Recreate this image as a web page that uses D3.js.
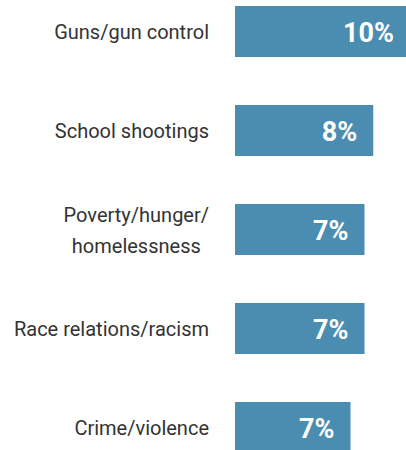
<!DOCTYPE html>
<html>
<head>
<meta charset="utf-8">
<script src="https://cdn.jsdelivr.net/npm/d3@7"></script>
<style>
  html, body { margin: 0; padding: 0; background: #ffffff; }
  svg { display: block; }
  .cat { font-family: Roboto, "Noto Sans", sans-serif; font-size: 20px; font-weight: 400; fill: #333333; }
  .val { font-family: Roboto, "Noto Sans", sans-serif; font-size: 27px; font-weight: 700; fill: #ffffff; }
</style>
</head>
<body>
<svg id="chart" width="406" height="450"></svg>
<script>
// Share of respondents naming each issue (percent)
const categories = [
  "Guns/gun control",
  "School shootings",
  "Poverty/hunger/\nhomelessness",
  "Race relations/racism",
  "Crime/violence"
];
const values = [10.0, 7.9, 7.4, 7.4, 6.6];

const barColor = "#4a8db1";
const width = 406, height = 450;

const svg = d3.select("#chart");

const x = d3.scaleLinear().domain([0, 10]).range([235, 410]);
const y = d3.scaleBand()
  .domain(categories)
  .range([6, 453])
  .paddingInner(0.485)
  .paddingOuter(0);

const fmt = v => d3.format(".0f")(v) + "%";

const rows = svg.selectAll("g.row")
  .data(categories.map((c, i) => ({ cat: c, value: values[i] })))
  .join("g")
  .attr("class", "row");

rows.append("rect")
  .attr("x", x(0))
  .attr("y", d => y(d.cat))
  .attr("width", d => x(d.value) - x(0))
  .attr("height", y.bandwidth())
  .attr("fill", barColor);

rows.append("text")
  .attr("class", "val")
  .attr("x", d => x(d.value) - 16)
  .attr("y", d => y(d.cat) + y.bandwidth() / 2 + 10.5)
  .attr("text-anchor", "end")
  .text(d => fmt(d.value));

// Category labels: right-aligned block, lines of a wrapped label centred on each other
const labelRight = 209;
const lineGap = 31;
rows.each(function (d) {
  const g = d3.select(this);
  const lines = d.cat.split("\n");
  const cy = y(d.cat) + y.bandwidth() / 2;
  const base = cy + 7.5 - (lines.length - 1) * lineGap / 2;
  const texts = lines.map((ln, i) =>
    g.append("text")
      .attr("class", "cat")
      .attr("y", base + i * lineGap)
      .text(ln)
  );
  const widths = texts.map(t => t.node().getComputedTextLength());
  const maxW = d3.max(widths);
  const center = labelRight - maxW / 2;
  texts.forEach(t => {
    if (lines.length === 1) t.attr("x", labelRight).attr("text-anchor", "end");
    else t.attr("x", center).attr("text-anchor", "middle");
  });
});
</script>
</body>
</html>
